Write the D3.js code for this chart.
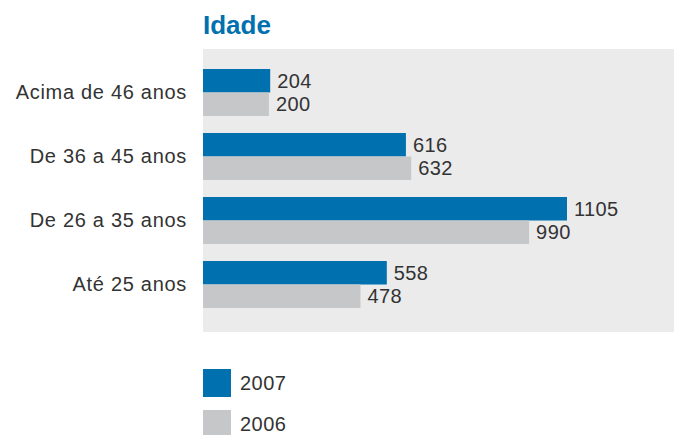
<!DOCTYPE html>
<html>
<head>
<meta charset="utf-8">
<script src="https://cdn.jsdelivr.net/npm/d3@7"></script>
<style>
  body { margin: 0; background: white; }
  text { font-family: "Liberation Sans", Arial, sans-serif; }
</style>
</head>
<body>
<svg id="chart"></svg>
<script>
"use strict";

// Data
const categories = ["Acima de 46 anos", "De 36 a 45 anos", "De 26 a 35 anos", "Até 25 anos"];
const series_names = ["2007", "2006"];
const values_2007 = [204, 616, 1105, 558];
const values_2006 = [200, 632, 990, 478];
const series_colors = ["#0071ae", "#c6c7c9"];

const width = 674, height = 435;
const panel = {left: 203, top: 49, right: 674, bottom: 332};

const svg = d3.select("#chart")
    .attr("width", width)
    .attr("height", height);

svg.append("rect")
    .attr("width", width)
    .attr("height", height)
    .attr("fill", "white");

// grey plot panel
svg.append("rect")
    .attr("x", panel.left)
    .attr("y", panel.top)
    .attr("width", panel.right - panel.left)
    .attr("height", panel.bottom - panel.top)
    .attr("fill", "#ebebeb");

// title
svg.append("text")
    .attr("x", panel.left)
    .attr("y", 34)
    .attr("font-size", 26)
    .attr("font-weight", "bold")
    .attr("fill", "#0071ae")
    .text("Idade");

const x_scale = d3.scaleLinear()
    .domain([0, 1105])
    .range([panel.left, 567]);

const y_scale = d3.scaleBand()
    .domain(categories)
    .range([69, 308])
    .paddingInner(0.2656)
    .paddingOuter(0);

const sub_scale = d3.scaleBand()
    .domain(series_names)
    .range([0, y_scale.bandwidth()]);

const data = categories.map(function (c, i) {
    return {category: c, values: [values_2007[i], values_2006[i]]};
});

// category labels on the left
const y_axis = d3.axisLeft(y_scale).tickSize(0).tickPadding(16);
const y_axis_g = svg.append("g")
    .attr("transform", "translate(" + panel.left + ",0)")
    .call(y_axis);
y_axis_g.select(".domain").remove();
y_axis_g.attr("font-size", 20).attr("font-family", null);
y_axis_g.selectAll("text")
    .attr("font-size", 20)
    .attr("letter-spacing", 0.7)
    .attr("fill", "#333");

const groups = svg.selectAll(".group")
    .data(data)
    .enter()
    .append("g")
    .attr("class", "group")
    .attr("transform", function (d) { return "translate(0," + y_scale(d.category) + ")"; });

groups.selectAll("rect")
    .data(function (d) { return d.values.map(function (v, i) { return {name: series_names[i], value: v, index: i}; }); })
    .enter()
    .append("rect")
    .attr("x", x_scale(0))
    .attr("y", function (d) { return sub_scale(d.name); })
    .attr("width", function (d) { return x_scale(d.value) - x_scale(0); })
    .attr("height", sub_scale.bandwidth())
    .attr("fill", function (d) { return series_colors[d.index]; });

groups.selectAll(".value")
    .data(function (d) { return d.values.map(function (v, i) { return {name: series_names[i], value: v}; }); })
    .enter()
    .append("text")
    .attr("class", "value")
    .attr("x", function (d) { return x_scale(d.value) + 7; })
    .attr("y", function (d) { return sub_scale(d.name) + sub_scale.bandwidth() / 2; })
    .attr("dy", "0.36em")
    .attr("font-size", 20)
    .attr("letter-spacing", 0.4)
    .attr("fill", "#333")
    .text(function (d) { return d.value; });

// legend
const legend = svg.selectAll(".legend")
    .data(series_names)
    .enter()
    .append("g")
    .attr("class", "legend")
    .attr("transform", function (d, i) { return "translate(" + panel.left + "," + (369 + i * 41) + ")"; });

legend.append("rect")
    .attr("width", 28)
    .attr("height", 28)
    .attr("fill", function (d, i) { return series_colors[i]; });

legend.append("text")
    .attr("x", 37)
    .attr("y", 14)
    .attr("dy", "0.36em")
    .attr("font-size", 20)
    .attr("letter-spacing", 0.5)
    .attr("fill", "#333")
    .text(function (d) { return d; });
</script>
</body>
</html>
